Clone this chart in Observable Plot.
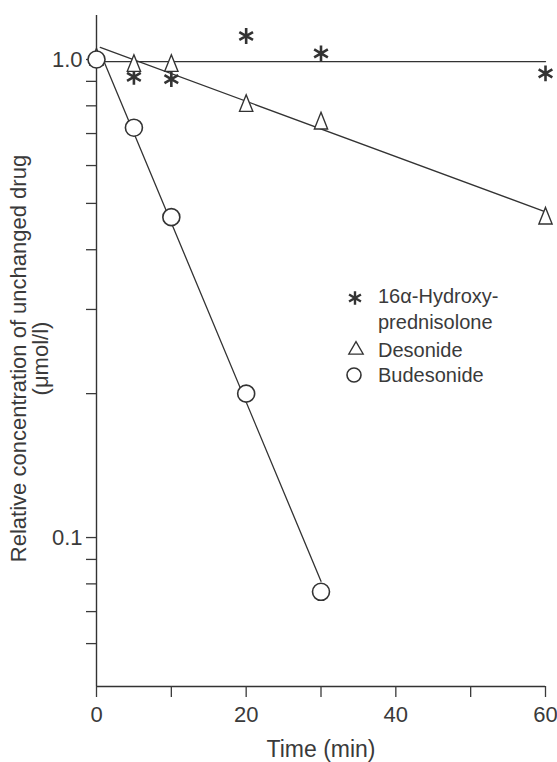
<!DOCTYPE html>
<html>
<head>
<meta charset="utf-8">
<script src="https://cdn.jsdelivr.net/npm/d3@7"></script>
<script src="https://cdn.jsdelivr.net/npm/@observablehq/plot@0.6"></script>
<style>
  html, body { margin: 0; padding: 0; background: #fff; }
  #wrap { position: relative; width: 557px; height: 762px; }
  #legend { position: absolute; left: 340px; top: 280px; overflow: visible; }
</style>
</head>
<body>
<div id="wrap"></div>
<script>
// ---- Data ----
const hydroxyTimes = [0, 5, 10, 20, 30, 60];
const hydroxyValues = [1.0, 0.92, 0.91, 1.12, 1.03, 0.935];
const desonideTimes = [0, 5, 10, 20, 30, 60];
const desonideValues = [1.0, 0.97, 0.97, 0.80, 0.735, 0.465];
const budesonideTimes = [0, 5, 10, 20, 30];
const budesonideValues = [1.0, 0.72, 0.468, 0.20, 0.077];

// fitted regression lines (end points)
const hydroxyFitTimes = [0, 60];
const hydroxyFitValues = [0.99, 0.99];
const desonideFitTimes = [0.5, 60];
const desonideFitValues = [1.06, 0.48];
const budesonideFitTimes = [1, 30];
const budesonideFitValues = [0.99, 0.081];

const xTicks = [0, 10, 20, 30, 40, 50, 60];
const xTickLabels = [0, 20, 40, 60];
const yTicks = [0.06, 0.07, 0.08, 0.09, 0.1, 0.2, 0.3, 0.4, 0.5, 0.6, 0.7, 0.8, 0.9, 1.0];
const yTickLabelValues = [0.1, 1.0];
const yTickLabelTexts = ["0.1", "1.0"];
const xDomain = [0, 60];
const yDomain = [0.0488, 1.236];
const xLabel = "Time (min)";
const yLabelLines = ["Relative concentration of unchanged drug", "(μmol/l)"];
const legendNames = ["16α-Hydroxy-", "prednisolone", "Desonide", "Budesonide"];

// ---- Build tables ----
const toRows = (ts, vs) => ts.map((t, i) => ({t, c: vs[i]}));
const hydroxy = toRows(hydroxyTimes, hydroxyValues);
const desonide = toRows(desonideTimes, desonideValues);
const budesonide = toRows(budesonideTimes, budesonideValues);
const hydroxyFit = toRows(hydroxyFitTimes, hydroxyFitValues);
const desonideFit = toRows(desonideFitTimes, desonideFitValues);
const budesonideFit = toRows(budesonideFitTimes, budesonideFitValues);

const ink = "#333";
const textInk = "#3a3a3a";
const font = "'Liberation Sans', Arial, Helvetica, sans-serif";

// tall triangle (as printed)
const tallTriangle = {
  draw(ctx, size) {
    const r = Math.sqrt(size / Math.PI);
    ctx.moveTo(0, -1.3 * r);
    ctx.lineTo(0.78 * r, 0.65 * r);
    ctx.lineTo(-0.78 * r, 0.65 * r);
    ctx.closePath();
  }
};

const yFmt = d => {
  const i = yTickLabelValues.findIndex(v => Math.abs(v - d) < 1e-9);
  return i >= 0 ? yTickLabelTexts[i] : "";
};

const chart = Plot.plot({
  width: 557,
  height: 762,
  marginLeft: 96,
  marginRight: 12,
  marginTop: 15,
  marginBottom: 76,
  style: {background: "white", color: ink, fontFamily: font},
  x: {domain: xDomain},
  y: {type: "log", domain: yDomain},
  marks: [
    Plot.ruleX([xDomain[0]], {y1: yDomain[0], y2: yDomain[1], stroke: ink, strokeWidth: 1.4}),
    Plot.ruleY([yDomain[0]], {stroke: ink, strokeWidth: 1.4}),
    Plot.axisX({ticks: xTicks, tickFormat: d => xTickLabels.includes(d) ? String(d) : "",
      tickSize: 11, tickPadding: 9, fontSize: 22, label: null, strokeWidth: 1.3, color: textInk}),
    Plot.axisY({ticks: yTicks, tickFormat: yFmt, tickSize: 10, tickPadding: 4,
      fontSize: 22, label: null, strokeWidth: 1.3, color: textInk}),
    Plot.text([xLabel], {text: d => d, frameAnchor: "bottom", dy: 63, fontSize: 23,
      lineAnchor: "middle", fill: textInk}),
    Plot.text([yLabelLines.join("\n")], {text: d => d, frameAnchor: "left", rotate: -90,
      dx: -67, dy: 7.5, fontSize: 22, lineAnchor: "middle", textAnchor: "middle", fill: textInk}),
    Plot.line(hydroxyFit, {x: "t", y: "c", stroke: ink, strokeWidth: 1.3}),
    Plot.line(desonideFit, {x: "t", y: "c", stroke: ink, strokeWidth: 1.3}),
    Plot.line(budesonideFit, {x: "t", y: "c", stroke: ink, strokeWidth: 1.3}),
    Plot.dot(hydroxy, {x: "t", y: "c", symbol: "asterisk", r: 7.5, stroke: ink, strokeWidth: 2.6}),
    Plot.dot(desonide, {x: "t", y: "c", symbol: tallTriangle, r: 8.5, fill: "white", stroke: ink, strokeWidth: 1.4}),
    Plot.dot(budesonide, {x: "t", y: "c", symbol: "circle", r: 8.5, fill: "white", stroke: ink, strokeWidth: 1.6})
  ]
});

const wrap = document.getElementById("wrap");
wrap.appendChild(chart);

// ---- Legend (inside the plot area) ----
const lg = d3.select(wrap).append("svg")
  .attr("id", "legend").attr("width", 210).attr("height", 115)
  .style("font-family", font).style("font-size", "20px");

lg.append("path")
  .attr("transform", "translate(15,18)")
  .attr("d", d3.symbol(d3.symbolAsterisk, Math.PI * 6.5 * 6.5)())
  .attr("fill", "none").attr("stroke", ink).attr("stroke-width", 2.4);
lg.append("path")
  .attr("transform", "translate(16,70)")
  .attr("d", d3.symbol(d3.symbolTriangle2, 150)())
  .attr("fill", "white").attr("stroke", ink).attr("stroke-width", 1.3);
lg.append("circle")
  .attr("cx", 14).attr("cy", 95).attr("r", 7)
  .attr("fill", "white").attr("stroke", ink).attr("stroke-width", 1.6);

const legendY = [23, 49, 77, 102];
lg.selectAll("text.lab").data(legendNames).join("text")
  .attr("class", "lab")
  .attr("x", 38).attr("y", (d, i) => legendY[i])
  .attr("fill", textInk)
  .text(d => d);
</script>
</body>
</html>
